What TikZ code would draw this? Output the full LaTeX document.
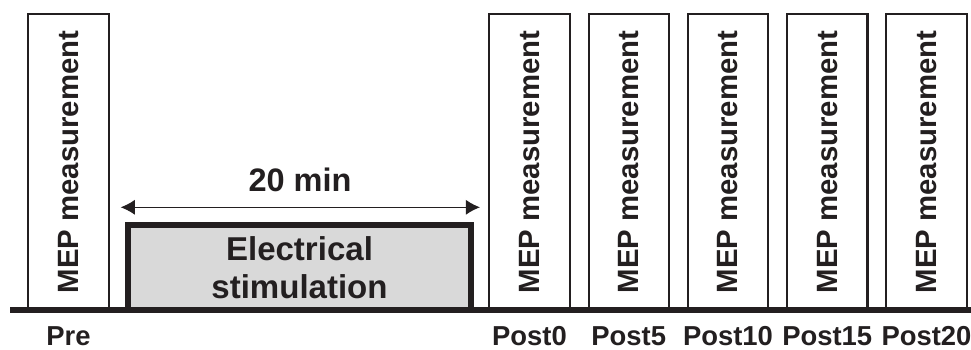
\documentclass[tikz,border=0pt]{standalone}
\usepackage{fontspec}
\setmainfont{Liberation Sans}
\usetikzlibrary{arrows.meta}

\definecolor{ink}{HTML}{231F20}
\definecolor{stimgray}{HTML}{D9D9D9}

\tikzset{
  measbox/.style={draw=ink, line width=1.15pt, rectangle, inner sep=0pt,
    rotate=90, minimum width=5.92cm, minimum height=1.61cm,
    text=ink, font=\fontsize{16.7}{20}\selectfont\bfseries},
  stimbox/.style={draw=ink, fill=stimgray, line width=3.2pt, rectangle,
    inner sep=0pt, minimum width=6.86cm, minimum height=1.7cm, align=center,
    text=ink, font=\fontsize{18.8}{21.6}\selectfont\bfseries},
  timelabel/.style={anchor=base, inner sep=0pt, text=ink,
    font=\fontsize{15.6}{18}\selectfont\bfseries},
  durlabel/.style={inner sep=0pt, text=ink,
    font=\fontsize{18.5}{22}\selectfont\bfseries},
  dimarrow/.style={{Latex[length=8pt,width=8.5pt]}-{Latex[length=8pt,width=8.5pt]},
    line width=0.6pt, draw=ink},
}

\begin{document}
\begin{tikzpicture}[x=0.02cm, y=0.02cm]

  \useasboundingbox (0,-39) rectangle (971,310);

  % ────────────────────────────────────────────────────────────────────
  % Baseline measurement (Pre)
  % ────────────────────────────────────────────────────────────────────
  \node[measbox] (pre) at (68.5,148) {MEP measurement};
  \node[timelabel] (prelab) at (68.5,-35) {Pre};

  % ────────────────────────────────────────────────────────────────────
  % Stimulation block (20 min)
  % ────────────────────────────────────────────────────────────────────
  \node[stimbox] (stim) at (299.5,42.5) {Electrical\\stimulation};

  % Duration arrow
  \coordinate (durL) at (120.7,102.7);
  \coordinate (durR) at (480,102.7);
  \draw[dimarrow] (durL) -- (durR);
  \node[durlabel] (dur) at (300,130) {20 min};

  % ────────────────────────────────────────────────────────────────────
  % Post measurements, every 5 min
  % ────────────────────────────────────────────────────────────────────
  \foreach \t [count=\i from 0] in {0,5,10,15,20} {
    \node[measbox] (post\t) at ({529.5+99.25*\i},148) {MEP measurement};
    \node[timelabel] (post\t lab) at ({529.5+99.25*\i},-35) {Post\t};
  }

  % Time axis
  \coordinate (axisL) at (10,0);
  \coordinate (axisR) at (971,0);
  \draw[line width=3.4pt, ink] (axisL) -- (axisR);

\end{tikzpicture}
\end{document}
